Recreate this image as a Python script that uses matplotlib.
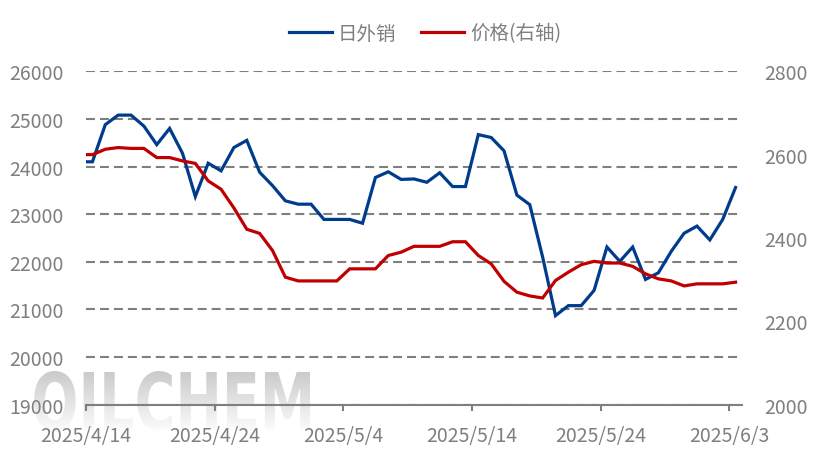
import numpy as np
import pandas as pd
import matplotlib
matplotlib.use('Agg')
import matplotlib.pyplot as plt
import matplotlib.dates as mdates
from matplotlib.ticker import FuncFormatter
from matplotlib.textpath import TextPath
from matplotlib.patches import PathPatch
from matplotlib.font_manager import FontProperties
from matplotlib.colors import LinearSegmentedColormap

plt.rcParams['font.family'] = ['Noto Sans CJK SC', 'DejaVu Sans']

# daily data, 4/13 is only partly visible at the left edge
dates = pd.date_range('2025-04-13', '2025-06-03', freq='D')
export_daily = [24100, 24100, 24880, 25080, 25080, 24850, 24460, 24800, 24280, 23370,
                24070, 23910, 24400, 24550, 23880, 23600, 23280, 23210, 23210, 22890,
                22890, 22890, 22810, 23770, 23890, 23730, 23740, 23670, 23870, 23580,
                23580, 24670, 24610, 24330, 23400, 23200, 22100, 20870, 21080, 21080,
                21400, 22310, 22010, 22310, 21630, 21770, 22220, 22600, 22750, 22460,
                22890, 23560]
price = [2600, 2600, 2613, 2617, 2615, 2615, 2593, 2593, 2585, 2579,
         2537, 2517, 2472, 2421, 2411, 2370, 2306, 2297, 2297, 2297,
         2297, 2326, 2326, 2326, 2358, 2366, 2380, 2380, 2380, 2391,
         2391, 2358, 2338, 2296, 2270, 2261, 2256, 2298, 2318, 2336,
         2344, 2340, 2340, 2332, 2314, 2302, 2297, 2285, 2290, 2290,
         2290, 2294]
tick_dates = ['2025-04-14', '2025-04-24', '2025-05-04', '2025-05-14', '2025-05-24', '2025-06-03']
left_ticks = [19000, 20000, 21000, 22000, 23000, 24000, 25000, 26000]
right_ticks = [2000, 2200, 2400, 2600, 2800]

blue = '#003c8c'
red = '#c00000'
gray = '#7f7f7f'

fig = plt.figure(figsize=(8.16, 4.6), dpi=100)

# watermark
wax = fig.add_axes([34/816, 1-432/460, 276/816, 60/460])
wax.axis('off')
tp = TextPath((0, 0), 'OILCHEM', size=10, prop=FontProperties(family='DejaVu Sans', weight='bold'))
bb = tp.get_extents()
patch = PathPatch(tp, facecolor='none', edgecolor='none')
wax.add_patch(patch)
cmap = LinearSegmentedColormap.from_list('wm', ['#fcfcfc', '#cacaca'])
im = wax.imshow(np.linspace(0, 1, 100).reshape(-1, 1), extent=(bb.x0, bb.x1, bb.y0, bb.y1),
                origin='lower', aspect='auto', cmap=cmap, vmin=0, vmax=1)
im.set_clip_path(patch)
wax.set_xlim(bb.x0, bb.x1)
wax.set_ylim(bb.y0, bb.y1)

ax = fig.add_axes([86/816, 1-405.7/460, 656/816, (405.7-72.3)/460])
ax.patch.set_alpha(0)
ax2 = ax.twinx()

x = mdates.date2num(dates) + 0.5
l1, = ax.plot(x, export_daily, color=blue, lw=2.3, label='日外销', solid_joinstyle='miter')
l2, = ax2.plot(x, price, color=red, lw=2.3, label='价格(右轴)', solid_joinstyle='miter')

x0 = mdates.date2num(pd.Timestamp('2025-04-14'))
ax.set_xlim(x0, x0 + 51)
ax.set_ylim(19000, 26000)
ax2.set_ylim(2000, 2800)
ax.set_yticks(left_ticks)
ax2.set_yticks(right_ticks)
ax.set_xticks(mdates.date2num(pd.to_datetime(tick_dates)))
ax.xaxis.set_major_formatter(FuncFormatter(
    lambda v, p: '{0.year}/{0.month}/{0.day}'.format(mdates.num2date(v))))

ax.yaxis.grid(True, color=gray, lw=1.5, ls=(0, (4.3, 2.4)))
ax.set_axisbelow(True)
for a in (ax, ax2):
    for s in a.spines.values():
        s.set_visible(False)
ax.spines['bottom'].set_visible(True)
ax.spines['bottom'].set_color(gray)
ax.spines['bottom'].set_linewidth(1.5)
ax.spines['bottom'].set_zorder(3)

ax.tick_params(axis='y', length=0, pad=16, labelsize=14, labelcolor=gray)
ax2.tick_params(axis='y', length=0, pad=16, labelsize=14, labelcolor=gray)
ax.tick_params(axis='x', length=4.3, width=1.5, color=gray, pad=10, labelsize=14, labelcolor=gray)

fig.legend([l1, l2], ['日外销', '价格(右轴)'], loc='center', bbox_to_anchor=(425/816, 1-34/460),
           ncol=2, frameon=False, fontsize=14, labelcolor=gray, handlelength=2.2,
           handletextpad=0.3, columnspacing=1.3)

fig.savefig('out.png', dpi=100)
